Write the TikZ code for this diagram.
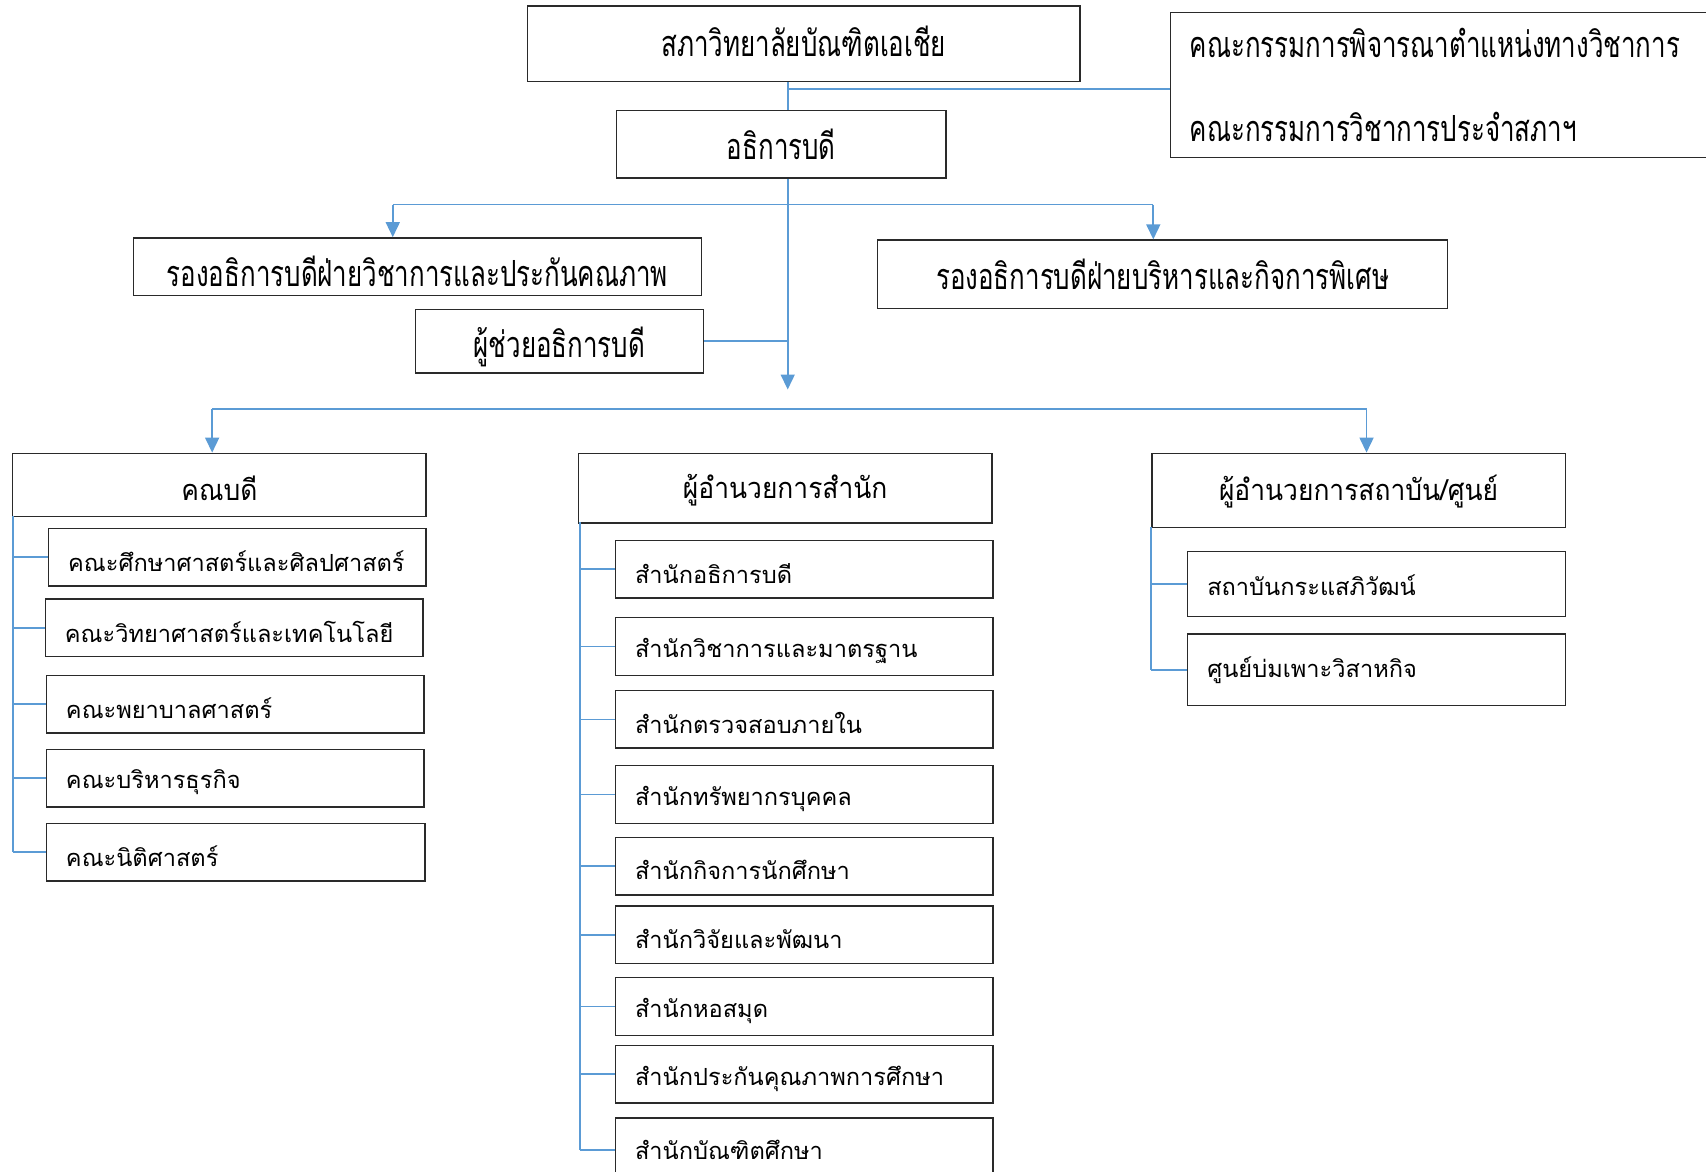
\documentclass[tikz,border=0pt]{standalone}
\usepackage{fontspec}
\newfontfamily\thai[Script=Thai]{Loma}
\newfontfamily\thaih[Script=Thai,FakeStretch=0.91]{Loma}
\newfontfamily\thaic[Script=Thai,FakeStretch=0.72]{Loma}
\usetikzlibrary{arrows.meta}
\definecolor{conn}{HTML}{5B9BD5}
\definecolor{edge}{HTML}{2A2A2A}
\newcommand\dn[2]{\raisebox{-#1}[\height][\depth]{#2}}
\newcommand\cbox[7]{%
  \node[#6, minimum width={(#4-#2)*0.544pt}, minimum height={(#5-#3)*0.544pt}, anchor=north west] (#1) at (#2,#3) {#7};}
\newcommand\lbox[7]{%
  \node[#6, text width={(#4-#2-36)*0.544pt}, minimum height={(#5-#3)*0.544pt}, anchor=north west] (#1) at (#2,#3) {#7};}
\begin{document}
\begin{tikzpicture}[x=0.544pt,y=-0.544pt,
  boxc/.style={draw=edge, line width=0.7pt, inner sep=0pt, align=center, font=\thaic\fontsize{18}{22}\selectfont},
  boxh/.style={draw=edge, line width=0.7pt, inner sep=0pt, align=center, font=\thaih\fontsize{14.5}{18}\selectfont},
  boxs/.style={draw=edge, line width=0.7pt, inner xsep=18*0.544pt, inner ysep=0pt, align=left, font=\thai\fontsize{11.8}{15}\selectfont},
  boxcl/.style={draw=edge, line width=0.7pt, inner xsep=18*0.544pt, inner ysep=0pt, align=left, font=\thaic\fontsize{18}{22}\selectfont},
  link/.style={draw=conn, line width=0.8pt},
  arr/.style={link, -{Triangle[width=7pt,length=7.5pt]}}]
\useasboundingbox (0,0) rectangle (1568,1077);
% top level
\cbox{top}{484}{5}{992}{74}{boxc}{\dn{-1pt}{สภาวิทยาลัยบัณฑิตเอเชีย}}
\lbox{comm}{1075}{11}{1580}{144}{boxcl}{คณะกรรมการพิจารณาตำแหน่งทางวิชาการ\\[20pt]คณะกรรมการวิชาการประจำสภาฯ}
\cbox{ceo}{566}{101}{869}{163}{boxc}{อธิการบดี}
\cbox{vp1}{122}{218}{644}{271}{boxc}{\dn{2.2pt}{รองอธิการบดีฝ่ายวิชาการและประกันคณภาพ}}
\cbox{vp2}{806}{220}{1330}{283}{boxc}{รองอธิการบดีฝ่ายบริหารและกิจการพิเศษ}
\cbox{asst}{381}{284}{646}{342}{boxc}{\dn{3pt}{ผู้ช่วยอธิการบดี}}
% second level heads
\cbox{dean}{11}{416}{391}{474}{boxh}{\dn{1.6pt}{คณบดี}}
\cbox{off}{531}{416}{911}{480}{boxh}{\dn{1.2pt}{ผู้อำนวยการสำนัก}}
\cbox{inst}{1058}{416}{1438}{484}{boxh}{\dn{0.8pt}{ผู้อำนวยการสถาบัน/ศูนย์}}
% faculties
\lbox{f1}{44}{485}{391}{538}{boxs}{\dn{2.2pt}{คณะศึกษาศาสตร์และศิลปศาสตร์}}
\lbox{f2}{41}{550}{388}{603}{boxs}{\dn{2pt}{คณะวิทยาศาสตร์และเทคโนโลยี}}
\lbox{f3}{42}{620}{389}{673}{boxs}{\dn{2pt}{คณะพยาบาลศาสตร์}}
\lbox{f4}{42}{688}{389}{741}{boxs}{\dn{2pt}{คณะบริหารธุรกิจ}}
\lbox{f5}{42}{756}{390}{809}{boxs}{\dn{2pt}{คณะนิติศาสตร์}}
% offices
\lbox{o1}{565}{496}{912}{549}{boxs}{\dn{2pt}{สำนักอธิการบดี}}
\lbox{o2}{565}{567}{912}{620}{boxs}{\dn{2.4pt}{สำนักวิชาการและมาตรฐาน}}
\lbox{o3}{565}{634}{912}{687}{boxs}{\dn{2pt}{สำนักตรวจสอบภายใน}}
\lbox{o4}{565}{703}{912}{756}{boxs}{\dn{2.4pt}{สำนักทรัพยากรบุคคล}}
\lbox{o5}{565}{769}{912}{822}{boxs}{\dn{2pt}{สำนักกิจการนักศึกษา}}
\lbox{o6}{565}{832}{912}{885}{boxs}{\dn{2pt}{สำนักวิจัยและพัฒนา}}
\lbox{o7}{565}{898}{912}{951}{boxs}{\dn{2.4pt}{สำนักหอสมุด}}
\lbox{o8}{565}{960}{912}{1013}{boxs}{\dn{2.6pt}{สำนักประกันคุณภาพการศึกษา}}
\lbox{o9}{565}{1027}{912}{1090}{boxs}{\dn{-1pt}{สำนักบัณฑิตศึกษา}}
% institutes
\lbox{i1}{1091}{506}{1438}{566}{boxs}{\dn{0.5pt}{สถาบันกระแสภิวัฒน์}}
\lbox{i2}{1091}{582}{1438}{648}{boxs}{\dn{0pt}{ศูนย์บ่มเพาะวิสาหกิจ}}
% connectors
\coordinate (sp) at (724,0);
\coordinate (j1) at (724,82);
\coordinate (a1) at (724,358);
\coordinate (h1) at (361,188);
\coordinate (h2) at (1060,188);
\coordinate (h3) at (195,376);
\coordinate (h4) at (1256,376);
\draw[link] (top.south -| sp) -- (ceo.north -| sp);
\draw[link] (j1) -- (j1 -| comm.west);
\draw[arr] (ceo.south -| sp) -- (a1);
\draw[link] (h1) -- (h2);
\draw[arr] (h1) -- (h1 |- vp1.north);
\draw[arr] (h2) -- (h2 |- vp2.north);
\draw[link] (asst.east) -- (asst.east -| sp);
\draw[link] (h3) -- (h4);
\draw[arr] (h3) -- (h3 |- dean.north);
\draw[arr] (h4) -- (h4 |- inst.north);
% faculty tree
\coordinate (ft) at (12,474);
\draw[link] (ft) -- (ft |- f5.west);
\foreach \n in {f1,f2,f3,f4,f5} \draw[link] (ft |- \n.west) -- (\n.west);
% office tree
\coordinate (ot) at (533,480);
\draw[link] (ot) -- (ot |- 0,1057);
\foreach \n in {o1,o2,o3,o4,o5,o6,o7,o8} \draw[link] (ot |- \n.west) -- (\n.west);
\draw[link] (ot |- 0,1057) -- (o9.west |- 0,1057);
% institute tree
\coordinate (it) at (1058,484);
\draw[link] (it) -- (it |- i2.west);
\foreach \n in {i1,i2} \draw[link] (it |- \n.west) -- (\n.west);
\end{tikzpicture}
\end{document}
